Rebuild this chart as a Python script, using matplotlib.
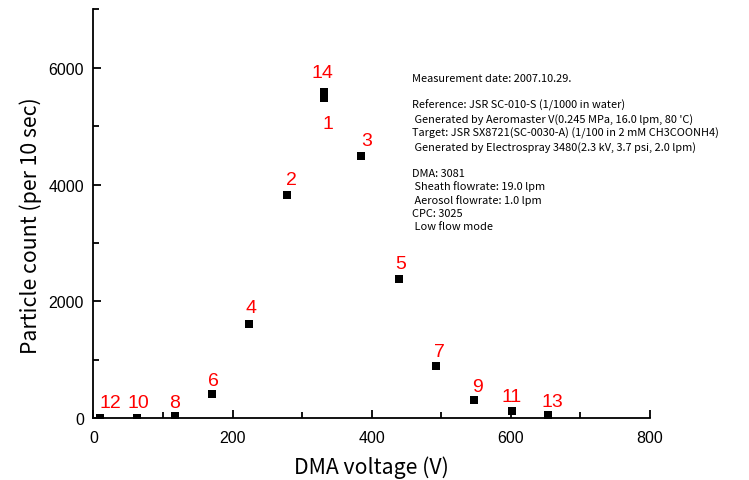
import matplotlib
matplotlib.use("Agg")
import matplotlib.pyplot as plt
from matplotlib.ticker import MultipleLocator

# Data
labels = ["12", "10", "8", "6", "4", "2", "14", "1", "3", "5", "7", "9", "11", "13"]
voltage = [9, 63, 117, 170, 224, 278, 331, 331, 385, 439, 493, 547, 601, 654]
counts = [5, 5, 46, 416, 1615, 3813, 5579, 5486, 4481, 2387, 901, 309, 126, 62]
# label offsets (points): baseline position relative to the marker centre
offsets = [(8, 8), (1, 8), (0, 6), (1, 6.5), (1, 8.4), (3, 8.4), (-1, 11), (3, -21.6),
           (3.8, 8), (1.5, 7.7), (2.4, 7.2), (2.6, 6.5), (0, 7.4), (2.6, 6)]

info = ("Measurement date: 2007.10.29.\n\n"
        "Reference: JSR SC-010-S (1/1000 in water)\n"
        " Generated by Aeromaster V(0.245 MPa, 16.0 lpm, 80 'C)\n"
        "Target: JSR SX8721(SC-0030-A) (1/100 in 2 mM CH3COONH4)\n"
        " Generated by Electrospray 3480(2.3 kV, 3.7 psi, 2.0 lpm)\n\n"
        "DMA: 3081\n"
        " Sheath flowrate: 19.0 lpm\n"
        " Aerosol flowrate: 1.0 lpm\n"
        "CPC: 3025\n"
        " Low flow mode")

plt.rcParams['font.family'] = ['Noto Sans CJK JP', 'DejaVu Sans']

fig = plt.figure(figsize=(7.49, 4.81), dpi=100)
ax = fig.add_axes([0.1248, 0.128, 0.7430, 0.851])

ax.scatter(voltage, counts, marker='s', s=38, color='black', zorder=3, linewidths=0)
for lab, x, y, off in zip(labels, voltage, counts, offsets):
    ax.annotate(lab, (x, y), xytext=off, textcoords='offset points',
                ha='center', va='baseline', color='red', fontsize=14,
                family=['Liberation Sans', 'DejaVu Sans'])

ax.set_xlim(0, 800)
ax.set_ylim(0, 7000)
ax.xaxis.set_major_locator(MultipleLocator(200))
ax.xaxis.set_minor_locator(MultipleLocator(100))
ax.yaxis.set_major_locator(MultipleLocator(2000))
ax.yaxis.set_minor_locator(MultipleLocator(1000))
ax.spines['top'].set_visible(False)
ax.spines['right'].set_visible(False)
ax.spines['left'].set_linewidth(1.3)
ax.spines['bottom'].set_linewidth(1.3)
ax.tick_params(which='major', direction='in', length=6, width=1.3, labelsize=11.5)
ax.tick_params(which='minor', direction='in', length=4, width=1.3)
for t in ax.get_xticklabels() + ax.get_yticklabels():
    t.set_family(['Liberation Sans', 'DejaVu Sans'])
ax.tick_params(axis='x', pad=8)
ax.tick_params(axis='y', pad=7)

ax.set_xlabel("DMA voltage (V)", fontsize=15.3, labelpad=8)
ax.set_ylabel("Particle count (per 10 sec)", fontsize=15.3)
ax.yaxis.set_label_coords(-0.093, 0.473)

ax.text(0.573, 0.843, info, transform=ax.transAxes, fontsize=7.9, va='top', ha='left',
        linespacing=1.33)

fig.savefig("out.png", dpi=100)
